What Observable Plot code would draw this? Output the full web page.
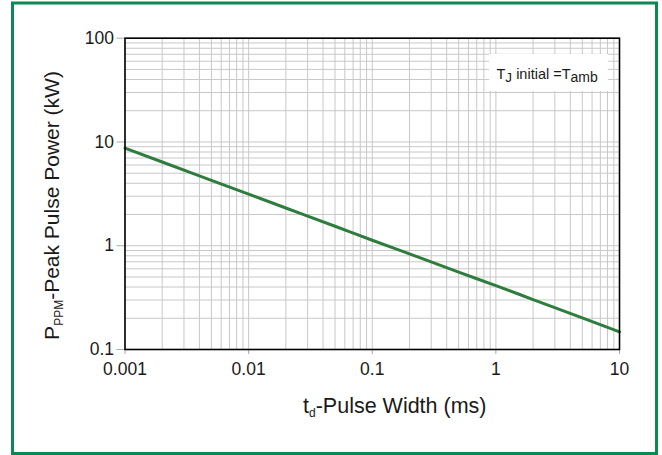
<!DOCTYPE html>
<html><head><meta charset="utf-8">
<script src="https://cdn.jsdelivr.net/npm/d3@7"></script>
<script src="https://cdn.jsdelivr.net/npm/@observablehq/plot@0.6"></script>
<style>
body{margin:0;background:#fff;}
#chart{position:relative;width:662px;height:455px;}
</style>
</head><body><div id="chart"></div>
<script>
// Data
const pulseWidth = [0.001, 0.002, 0.005, 0.01, 0.02, 0.05, 0.1, 0.2, 0.5, 1, 2, 5, 10];       // ms
const peakPower  = [8.71, 6.41, 4.27, 3.14, 2.31, 1.54, 1.13, 0.835, 0.557, 0.412, 0.303, 0.202, 0.148]; // kW
const xTicks = [0.001, 0.01, 0.1, 1, 10];
const xTickLabels = ["0.001", "0.01", "0.1", "1", "10"];
const yTicks = [0.1, 1, 10, 100];
const yTickLabels = ["0.1", "1", "10", "100"];
const xTitle = ["t", "d", "-Pulse Width (ms)"];
const yTitle = ["P", "PPM", "-Peak Pulse Power (kW)"];
const note = ["T", "J", " initial =T", "amb"];

const data = pulseWidth.map((x, i) => ({x, y: peakPower[i]}));
const decadeGrid = (lo, hi) => {
  const out = [];
  for (let e = lo; e < hi; e++) for (let m = 1; m < 10; m++) out.push(+(m * Math.pow(10, e)).toPrecision(6));
  out.push(Math.pow(10, hi));
  return out;
};
const xGrid = decadeGrid(-3, 1);
const yGrid = decadeGrid(-1, 2);

const font = "'Liberation Sans', Arial, sans-serif";
const gridColor = "#c8c8c8";

const plot = Plot.plot({
  width: 662, height: 455,
  marginLeft: 124.5, marginRight: 43, marginTop: 37.7, marginBottom: 106,
  style: {fontFamily: font, fontSize: "17.5px", color: "#1a1a1a", background: "transparent", overflow: "visible"},
  x: {type: "log", domain: [0.001, 10]},
  y: {type: "log", domain: [0.1, 100]},
  marks: [
    Plot.ruleX(xGrid, {stroke: gridColor, strokeWidth: 1}),
    Plot.ruleY(yGrid, {stroke: gridColor, strokeWidth: 1}),
    Plot.axisX({ticks: xTicks, tickFormat: d => xTickLabels[xTicks.indexOf(d)], tickSize: 5, tickPadding: 8, stroke: "#aaa", fill: "#1a1a1a", label: null, fontSize: 17.5}),
    Plot.axisY({ticks: yTicks, tickFormat: d => yTickLabels[yTicks.indexOf(d)], tickSize: 8, tickPadding: 3, stroke: "#aaa", fill: "#1a1a1a", label: null, fontSize: 17.5}),
    Plot.line(data, {x: "x", y: "y", stroke: "#2e7d3e", strokeWidth: 3, curve: "monotone-x"}),
    Plot.frame({stroke: "#000", strokeWidth: 1.6})
  ]
});

const svg = d3.select(plot);

// Note box (top right)
const g = svg.append("g");
g.append("rect").attr("x", 489).attr("y", 54).attr("width", 119).attr("height", 37).attr("fill", "#fff");
const nt = g.append("text").attr("x", 496.5).attr("y", 79).attr("text-anchor", "start")
  .attr("font-family", font).attr("font-size", 14.5).attr("fill", "#1a1a1a");
nt.append("tspan").text(note[0]);
nt.append("tspan").attr("dy", 2.5).attr("font-size", 13.5).text(note[1]);
nt.append("tspan").attr("dy", -2.5).text(note[2]);
nt.append("tspan").attr("dy", 3).attr("font-size", 14).text(note[3]);

// X axis title
const xt = svg.append("text").attr("x", 303).attr("y", 413).attr("text-anchor", "start")
  .attr("font-family", font).attr("font-size", 21.5).attr("fill", "#1a1a1a");
xt.append("tspan").text(xTitle[0]);
xt.append("tspan").attr("dy", 4).attr("font-size", 12).text(xTitle[1]);
xt.append("tspan").attr("dy", -4).text(xTitle[2]);

// Y axis title
const yt = svg.append("text").attr("transform", "translate(59,205.5) rotate(-90)").attr("text-anchor", "middle")
  .attr("font-family", font).attr("font-size", 21).attr("fill", "#1a1a1a");
yt.append("tspan").text(yTitle[0]);
yt.append("tspan").attr("dy", 4).attr("font-size", 12).text(yTitle[1]);
yt.append("tspan").attr("dy", -4).text(yTitle[2]);

// Outer green border
svg.append("rect").attr("x", 12.5).attr("y", 3).attr("width", 644).attr("height", 450.5)
  .attr("fill", "none").attr("stroke", "#0a8a50").attr("stroke-width", 3);

document.getElementById("chart").appendChild(plot);
</script>
</body></html>
